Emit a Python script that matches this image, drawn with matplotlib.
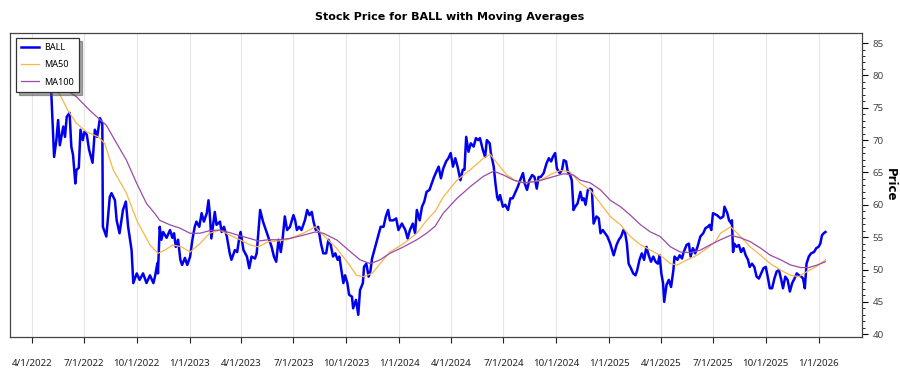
import numpy as np
import pandas as pd
import matplotlib as mpl
mpl.use('Agg')
import matplotlib.pyplot as plt

plt.rcParams['font.family'] = ['Noto Sans', 'DejaVu Sans']

# day offsets from 2022-04-01 and closing prices
price_days = [-12, -4, 0, 10, 21, 34, 39, 43, 46, 49, 55, 58, 61, 66, 69, 72, 76, 78, 82, 85,
              89, 92, 96, 100, 106, 110, 114, 119, 123, 124, 130, 136, 139, 145, 148, 153, 159, 164, 168, 174,
              177, 183, 188, 194, 200, 206, 212, 215, 219, 220, 223, 226, 229, 235, 241, 245, 248, 251, 255, 259,
              262, 267, 271, 276, 280, 284, 287, 292, 296, 300, 305, 308, 310, 313, 316, 319, 322, 328, 331, 335,
              340, 345, 348, 354, 358, 362, 364, 369, 375, 379, 383, 389, 392, 398, 403, 408, 412, 418, 422, 426,
              430, 434, 437, 441, 445, 450, 456, 459, 462, 466, 470, 476, 480, 484, 488, 491, 495, 499, 504, 508,
              513, 517, 521, 525, 529, 533, 536, 540, 543, 546, 550, 553, 558, 560, 565, 569, 572, 577, 579, 583,
              587, 590, 593, 597, 600, 604, 608, 613, 617, 621, 624, 630, 635, 639, 645, 651, 655, 659, 664, 668,
              671, 676, 680, 684, 688, 693, 697, 701, 705, 709, 713, 717, 722, 726, 730, 734, 738, 742, 747, 751,
              754, 757, 761, 765, 770, 774, 778, 781, 786, 790, 793, 798, 800, 805, 808, 811, 813, 816, 821, 825,
              830, 834, 838, 842, 847, 851, 856, 859, 863, 867, 872, 876, 880, 883, 887, 892, 897, 901, 905, 908,
              912, 915, 920, 924, 927, 931, 934, 938, 941, 944, 947, 951, 956, 959, 962, 965, 969, 973, 976, 979,
              984, 988, 991, 995, 999, 1003, 1008, 1014, 1019, 1023, 1027, 1031, 1034, 1037, 1040, 1044, 1048, 1052, 1055, 1059,
              1063, 1067, 1071, 1075, 1079, 1083, 1087, 1091, 1094, 1097, 1100, 1102, 1106, 1110, 1114, 1118, 1120, 1125, 1129, 1133,
              1136, 1141, 1145, 1148, 1152, 1156, 1160, 1165, 1170, 1174, 1178, 1181, 1184, 1187, 1194, 1200, 1205, 1207, 1212, 1215,
              1219, 1220, 1222, 1224, 1228, 1232, 1236, 1240, 1244, 1248, 1251, 1255, 1259, 1263, 1267, 1271, 1275, 1279, 1283, 1286,
              1290, 1294, 1298, 1302, 1306, 1309, 1313, 1317, 1321, 1325, 1329, 1333, 1337, 1341, 1344, 1347, 1350, 1354, 1358, 1363,
              1367, 1371, 1374, 1377, 1380, 1383]
price = [82.0, 83.0, 80.5, 81.5, 79.0, 77.5, 67.4, 70.0, 73.1, 69.2, 72.1, 70.5, 73.6, 74.2, 69.0, 67.7, 63.3, 65.4, 65.7, 71.6,
         70.0, 71.3, 70.8, 68.5, 66.5, 71.6, 70.5, 73.4, 72.6, 56.6, 55.1, 61.2, 61.8, 60.7, 57.6, 55.6, 59.2, 60.5, 56.6, 53.0,
         47.9, 49.4, 48.4, 49.4, 47.9, 49.1, 47.9, 49.0, 51.0, 49.4, 56.6, 54.6, 55.8, 54.9, 56.1, 54.9, 55.6, 53.5, 54.6, 51.5,
         50.7, 51.8, 50.7, 52.0, 54.6, 56.6, 57.4, 56.6, 58.7, 57.4, 58.7, 60.7, 58.9, 54.8, 56.9, 58.9, 56.9, 57.4, 55.8, 56.6,
         55.1, 52.5, 51.5, 53.0, 52.7, 55.1, 55.8, 53.0, 52.0, 50.2, 52.0, 51.7, 52.5, 59.2, 57.4, 56.1, 55.1, 53.5, 52.0, 51.2,
         54.6, 52.7, 54.6, 58.2, 56.1, 56.6, 58.4, 57.6, 56.1, 56.6, 56.1, 57.6, 59.2, 58.4, 58.9, 57.4, 56.1, 56.6, 54.0, 52.5,
         52.5, 54.6, 53.8, 52.0, 52.5, 51.5, 52.0, 49.7, 47.9, 49.1, 47.9, 46.1, 45.8, 44.0, 45.3, 43.0, 46.8, 47.9, 50.4, 50.9,
         48.9, 49.7, 51.7, 53.0, 54.0, 55.3, 56.6, 56.6, 58.2, 59.2, 57.6, 57.6, 57.9, 56.1, 57.1, 56.1, 54.8, 56.1, 57.1, 55.6,
         59.2, 57.6, 59.7, 60.5, 62.0, 62.3, 63.3, 64.3, 65.1, 65.9, 64.1, 65.6, 66.7, 67.2, 68.0, 65.9, 67.2, 65.9, 63.8, 65.4,
         65.4, 70.5, 68.2, 69.5, 69.0, 70.3, 70.0, 70.3, 68.5, 67.4, 70.0, 69.5, 68.0, 65.9, 63.3, 61.2, 60.7, 61.5, 59.7, 60.0,
         59.2, 61.0, 61.0, 61.8, 62.8, 63.8, 64.9, 63.3, 62.3, 63.8, 64.6, 64.3, 62.5, 64.3, 64.3, 64.9, 66.4, 67.2, 66.7, 67.4,
         68.0, 65.6, 64.9, 65.4, 66.9, 66.7, 65.1, 64.6, 63.8, 59.2, 59.7, 60.2, 62.0, 60.7, 61.0, 60.0, 62.3, 62.5, 62.3, 57.1,
         58.2, 57.9, 55.6, 56.1, 55.6, 55.1, 54.0, 52.2, 53.8, 54.6, 55.1, 56.1, 55.6, 54.0, 50.9, 50.2, 49.4, 49.1, 49.9, 51.5,
         52.5, 51.5, 53.5, 52.2, 51.2, 52.0, 51.2, 50.9, 52.2, 49.4, 47.9, 45.0, 47.6, 48.4, 47.3, 49.9, 52.0, 51.5, 52.2, 51.7,
         52.7, 53.8, 54.0, 52.0, 53.3, 52.5, 53.5, 55.1, 55.6, 56.4, 56.6, 56.9, 56.1, 58.7, 58.4, 57.9, 58.2, 59.7, 58.7, 57.6,
         57.1, 57.6, 52.7, 54.0, 53.5, 53.8, 52.7, 53.3, 52.2, 51.5, 50.4, 50.9, 50.4, 48.9, 48.6, 49.4, 50.2, 50.4, 48.6, 47.1,
         47.1, 48.6, 49.7, 49.9, 48.4, 47.1, 48.9, 48.4, 46.6, 47.9, 48.6, 49.4, 49.1, 48.9, 48.6, 47.1, 50.9, 52.0, 52.5, 52.7,
         53.3, 53.5, 54.0, 55.3, 55.6, 55.8]

ma50_days = [-12, 14, 48, 63, 78, 95, 116, 127, 142, 165, 183, 206, 220, 232, 246, 261, 276, 293, 310, 328,
             345, 363, 380, 395, 412, 427, 444, 459, 473, 494, 508, 531, 552, 566, 578, 593, 607, 624, 648, 671,
             688, 703, 717, 741, 764, 787, 799, 811, 828, 845, 863, 886, 909, 921, 938, 956, 973, 991, 1008, 1026,
             1043, 1061, 1078, 1095, 1113, 1125, 1142, 1159, 1177, 1191, 1200, 1218, 1235, 1252, 1270, 1287, 1305, 1322, 1337, 1351,
             1366, 1383]
ma50 = [81.0, 79.0, 77.2, 74.6, 72.6, 71.3, 70.5, 69.5, 65.4, 61.8, 57.6, 53.8, 52.5, 53.0, 53.8, 53.5, 52.7, 54.0, 55.6, 56.1,
        55.3, 54.6, 53.8, 53.5, 54.3, 54.4, 54.6, 55.1, 55.6, 56.6, 55.3, 53.3, 50.9, 49.1, 48.9, 49.4, 50.9, 52.7, 54.0, 55.6,
        57.6, 59.0, 61.2, 63.8, 65.4, 67.2, 67.8, 66.4, 64.6, 63.6, 63.4, 63.8, 64.9, 65.3, 65.1, 63.3, 62.3, 60.2, 58.2, 56.9,
        55.1, 53.8, 53.0, 52.2, 50.9, 50.7, 51.5, 52.2, 53.3, 54.3, 55.6, 56.6, 55.1, 53.5, 52.2, 50.9, 49.9, 49.1, 48.9, 49.7,
        50.4, 51.5]

ma100_days = [-12, 31, 78, 101, 116, 130, 148, 165, 183, 200, 215, 223, 241, 258, 276, 293, 310, 328, 345, 363,
              380, 395, 412, 430, 450, 473, 494, 508, 531, 552, 572, 590, 607, 624, 648, 671, 688, 703, 717, 741,
              764, 787, 805, 822, 840, 857, 880, 903, 927, 944, 956, 973, 991, 1008, 1026, 1043, 1061, 1078, 1095, 1113,
              1130, 1148, 1165, 1182, 1200, 1218, 1235, 1252, 1270, 1287, 1305, 1322, 1340, 1354, 1369, 1383]
ma100 = [83.0, 79.5, 76.7, 74.6, 73.4, 72.3, 69.5, 66.9, 63.3, 60.2, 58.6, 57.6, 56.9, 56.4, 55.6, 55.6, 56.0, 56.1, 55.7, 55.2,
         54.8, 54.4, 54.6, 54.6, 54.8, 55.3, 55.8, 55.6, 54.6, 53.0, 51.5, 50.9, 51.5, 52.5, 53.5, 54.6, 55.6, 56.7, 58.7, 61.0,
         62.8, 64.4, 65.2, 64.6, 63.8, 63.4, 63.6, 64.2, 64.8, 64.6, 63.8, 63.4, 62.3, 60.7, 59.7, 58.4, 56.9, 55.8, 55.1, 53.5,
         52.7, 52.6, 53.0, 53.8, 54.6, 55.3, 54.9, 54.3, 53.3, 52.2, 51.5, 50.7, 50.3, 50.3, 50.7, 51.2]

tick_dates = ['2022-04-01', '2022-07-01', '2022-10-01', '2023-01-01', '2023-04-01', '2023-07-01',
              '2023-10-01', '2024-01-01', '2024-04-01', '2024-07-01', '2024-10-01', '2025-01-01',
              '2025-04-01', '2025-07-01', '2025-10-01', '2026-01-01']

start = pd.Timestamp('2022-04-01')
d_price = start + pd.to_timedelta(price_days, unit='D')
d_ma50 = start + pd.to_timedelta(ma50_days, unit='D')
d_ma100 = start + pd.to_timedelta(ma100_days, unit='D')
ticks = pd.to_datetime(tick_dates)

fig = plt.figure(figsize=(9, 3.75), dpi=100)
ax = fig.add_axes([0.011, 0.101, 0.947, 0.811])

ax.plot(d_price, price, color='#0000ee', lw=1.8, label='BALL', zorder=3)
ax.plot(d_ma50, ma50, color='#f7b54a', lw=0.9, label='MA50', zorder=4)
ax.plot(d_ma100, ma100, color='#9b4aa8', lw=0.9, label='MA100', zorder=4)

ax.set_xlim(pd.Timestamp('2022-02-22'), pd.Timestamp('2026-03-18'))
ax.set_ylim(39.55, 86.55)

ax.set_xticks(ticks)
ax.set_xticklabels([f'{t.month}/{t.day}/{t.year}' for t in ticks])
ax.xaxis.grid(True, color='#e6e6e6', lw=0.8)
ax.set_axisbelow(True)

ax.yaxis.tick_right()
ax.yaxis.set_label_position('right')
ax.set_yticks(np.arange(40, 86, 5))
ax.set_yticks(np.arange(40, 86, 1), minor=True)
ax.set_ylabel('Price', fontsize=8.5, fontweight='bold', rotation=270, labelpad=9.5,
              family=['DejaVu Sans'])

ax.tick_params(axis='x', which='major', length=4, width=0.8, pad=12, labelsize=7, colors='#222222')
ax.tick_params(axis='y', which='major', length=4, width=0.8, labelsize=7, labelcolor='#444444')
ax.tick_params(axis='y', which='minor', length=2, width=0.6)
for s in ax.spines.values():
    s.set_color('#444444')
    s.set_linewidth(0.9)

fig.text(0.5, 0.955, 'Stock Price for BALL with Moving Averages', ha='center', va='center',
         fontsize=8, fontweight='bold', family=['DejaVu Sans'])

leg = ax.legend(loc='upper left', bbox_to_anchor=(0.007, 0.984), borderaxespad=0, fontsize=6.5,
                fancybox=False, shadow=True, framealpha=1, edgecolor='#333333',
                handlelength=2.0, handletextpad=0.5, borderpad=0.6, labelspacing=0.9)
leg.get_frame().set_linewidth(0.9)

fig.savefig('out.png', dpi=100)
